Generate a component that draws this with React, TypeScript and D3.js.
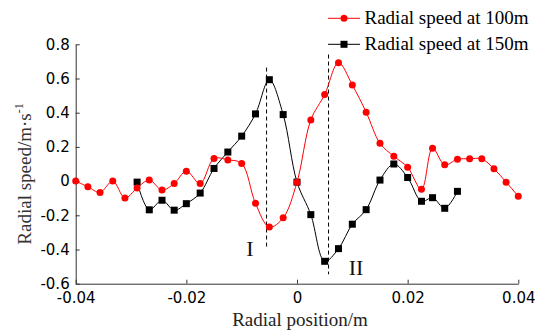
import React, { useRef, useEffect } from "react";
import * as d3 from "d3";

const redX = [
  -0.04, -0.0378, -0.0356, -0.0333, -0.0311, -0.0289, -0.0267, -0.0244, -0.0222, -0.02,
  -0.0175, -0.015, -0.0125, -0.01, -0.0075, -0.005, -0.0025, 0, 0.0025, 0.005, 0.0075,
  0.01, 0.0125, 0.015, 0.0175, 0.02, 0.0225, 0.0245, 0.0267, 0.029, 0.0312, 0.0334,
  0.0356, 0.0378, 0.04,
];
const redY = [
  0, -0.033, -0.066, 0, -0.099, -0.04, 0.006, -0.052, -0.014, 0.058, -0.014, 0.132,
  0.124, 0.103, -0.13, -0.269, -0.215, -0.006, 0.358, 0.506, 0.692, 0.562, 0.403,
  0.221, 0.145, 0.081, -0.048, 0.192, 0.095, 0.128, 0.13, 0.13, 0.072, -0.006, -0.089,
];
const blackX = [
  -0.0289, -0.0267, -0.0244, -0.0222, -0.02, -0.0175, -0.015, -0.0125, -0.01, -0.0075,
  -0.005, -0.0025, 0, 0.0025, 0.005, 0.0075, 0.01, 0.0125, 0.015, 0.0175, 0.02, 0.0225,
  0.0245, 0.0267, 0.029,
];
const blackY = [
  -0.006, -0.168, -0.112, -0.17, -0.132, -0.07, 0.074, 0.17, 0.263, 0.393, 0.593, 0.389,
  -0.006, -0.196, -0.469, -0.395, -0.252, -0.167, 0.006, 0.1, 0.021, -0.118, -0.097,
  -0.159, -0.06,
];
const xTicks = [-0.04, -0.02, 0, 0.02, 0.04];
const yTicks = [-0.6, -0.4, -0.2, 0, 0.2, 0.4, 0.6, 0.8];
// dashed markers: x, top and bottom values, label
const markX = [-0.0055, 0.0057];
const markTop = [0.664, 0.74];
const markBottom = [-0.385, -0.545];
const markLabels = ["I", "II"];
const legendNames = ["Radial speed at 100m", "Radial speed at 150m"];

const W = 535;
const H = 330;
const margin = { left: 75.7, right: 16.7, top: 44.3, bottom: 46.3 };
const serif = "'Liberation Serif', 'Times New Roman', serif";
const sans = "'DejaVu Sans', sans-serif";

function App() {
  const svgRef = useRef<SVGSVGElement>(null);

  useEffect(() => {
    const svg = d3.select(svgRef.current);
    svg.selectAll("*").remove();

    const x = d3.scaleLinear().domain([-0.04, 0.04]).range([margin.left, W - margin.right]);
    const y = d3.scaleLinear().domain([-0.6, 0.8]).range([H - margin.bottom, margin.top]);

    // axes, ticks pointing inward
    const xAxis = svg
      .append("g")
      .attr("transform", `translate(0,${H - margin.bottom})`)
      .call(
        d3.axisBottom(x).tickValues(xTicks).tickSizeInner(-4).tickSizeOuter(0)
          .tickFormat((d) => (+d === 0 ? "0" : d3.format(".2f")(+d).replace("−", "-")))
      );
    xAxis.select(".domain").attr("stroke", "#333");
    xAxis.selectAll(".tick line").attr("stroke", "#333");
    xAxis.selectAll(".tick text")
      .attr("y", 9)
      .attr("dy", "0.71em")
      .attr("font-family", sans)
      .attr("font-size", 15)
      .attr("fill", "#000");

    const yAxis = svg
      .append("g")
      .attr("transform", `translate(${margin.left},0)`)
      .call(
        d3.axisLeft(y).tickValues(yTicks).tickSizeInner(-4).tickSizeOuter(0)
          .tickFormat((d) => (Math.abs(+d) < 1e-9 ? "0" : d3.format(".1f")(+d).replace("−", "-")))
      );
    yAxis.select(".domain").attr("stroke", "#333");
    yAxis.selectAll(".tick line").attr("stroke", "#333");
    yAxis.selectAll(".tick text")
      .attr("x", -6)
      .attr("font-family", sans)
      .attr("font-size", 15)
      .attr("fill", "#000");

    // titles
    svg.append("text")
      .attr("x", 300)
      .attr("y", 326)
      .attr("text-anchor", "middle")
      .attr("font-family", serif)
      .attr("font-size", 19)
      .attr("fill", "#222")
      .text("Radial position/m");

    const yt = svg.append("text")
      .attr("transform", `translate(31,174) rotate(-90)`)
      .attr("text-anchor", "middle")
      .attr("font-family", serif)
      .attr("font-size", 19)
      .attr("fill", "#333");
    yt.append("tspan").text("Radial speed/m·s");
    yt.append("tspan").attr("dy", -8).attr("font-size", 12).text("-1");

    // dashed markers
    markX.forEach((mx, i) => {
      svg.append("line")
        .attr("x1", x(mx)).attr("x2", x(mx))
        .attr("y1", y(markTop[i])).attr("y2", y(markBottom[i]))
        .attr("stroke", "#000")
        .attr("stroke-width", 1)
        .attr("stroke-dasharray", "4,3");
    });
    svg.append("text")
      .attr("x", 250).attr("y", 256)
      .attr("text-anchor", "middle")
      .attr("font-family", serif).attr("font-size", 22).attr("fill", "#111")
      .text(markLabels[0]);
    svg.append("text")
      .attr("x", 356).attr("y", 275)
      .attr("text-anchor", "middle")
      .attr("font-family", serif).attr("font-size", 22).attr("fill", "#111")
      .text(markLabels[1]);

    const smooth = d3.line().curve(d3.curveCatmullRom.alpha(0.5));

    // black series
    const bPts: [number, number][] = blackX.map((v, i) => [x(v), y(blackY[i])]);
    svg.append("path")
      .attr("d", smooth(bPts))
      .attr("fill", "none")
      .attr("stroke", "#000")
      .attr("stroke-width", 1);
    svg.append("g")
      .selectAll("rect")
      .data(bPts)
      .join("rect")
      .attr("x", (d) => d[0] - 3.5)
      .attr("y", (d) => d[1] - 3.5)
      .attr("width", 7)
      .attr("height", 7)
      .attr("fill", "#000");

    // red series on top
    const rPts: [number, number][] = redX.map((v, i) => [x(v), y(redY[i])]);
    svg.append("path")
      .attr("d", smooth(rPts))
      .attr("fill", "none")
      .attr("stroke", "#ff0000")
      .attr("stroke-width", 1);
    svg.append("g")
      .selectAll("circle")
      .data(rPts)
      .join("circle")
      .attr("cx", (d) => d[0])
      .attr("cy", (d) => d[1])
      .attr("r", 3.5)
      .attr("fill", "#ff0000");

    // legend
    const legend = svg.append("g");
    const rows = [18.3, 44.3];
    rows.forEach((ry, i) => {
      const color = i === 0 ? "#ff0000" : "#000";
      legend.append("line")
        .attr("x1", 328).attr("x2", 360)
        .attr("y1", ry).attr("y2", ry)
        .attr("stroke", color).attr("stroke-width", 1);
      if (i === 0) {
        legend.append("circle").attr("cx", 344).attr("cy", ry).attr("r", 3.5).attr("fill", color);
      } else {
        legend.append("rect").attr("x", 340.5).attr("y", ry - 3.5).attr("width", 7).attr("height", 7).attr("fill", color);
      }
      legend.append("text")
        .attr("x", 364.5).attr("y", ry + 6)
        .attr("font-family", serif).attr("font-size", 19).attr("fill", "#000")
        .text(legendNames[i]);
    });
  }, []);

  return (
    <svg
      ref={svgRef}
      width={W}
      height={H}
      style={{ position: "absolute", left: 0, top: 0, background: "#fff" }}
    />
  );
}

export default App;
